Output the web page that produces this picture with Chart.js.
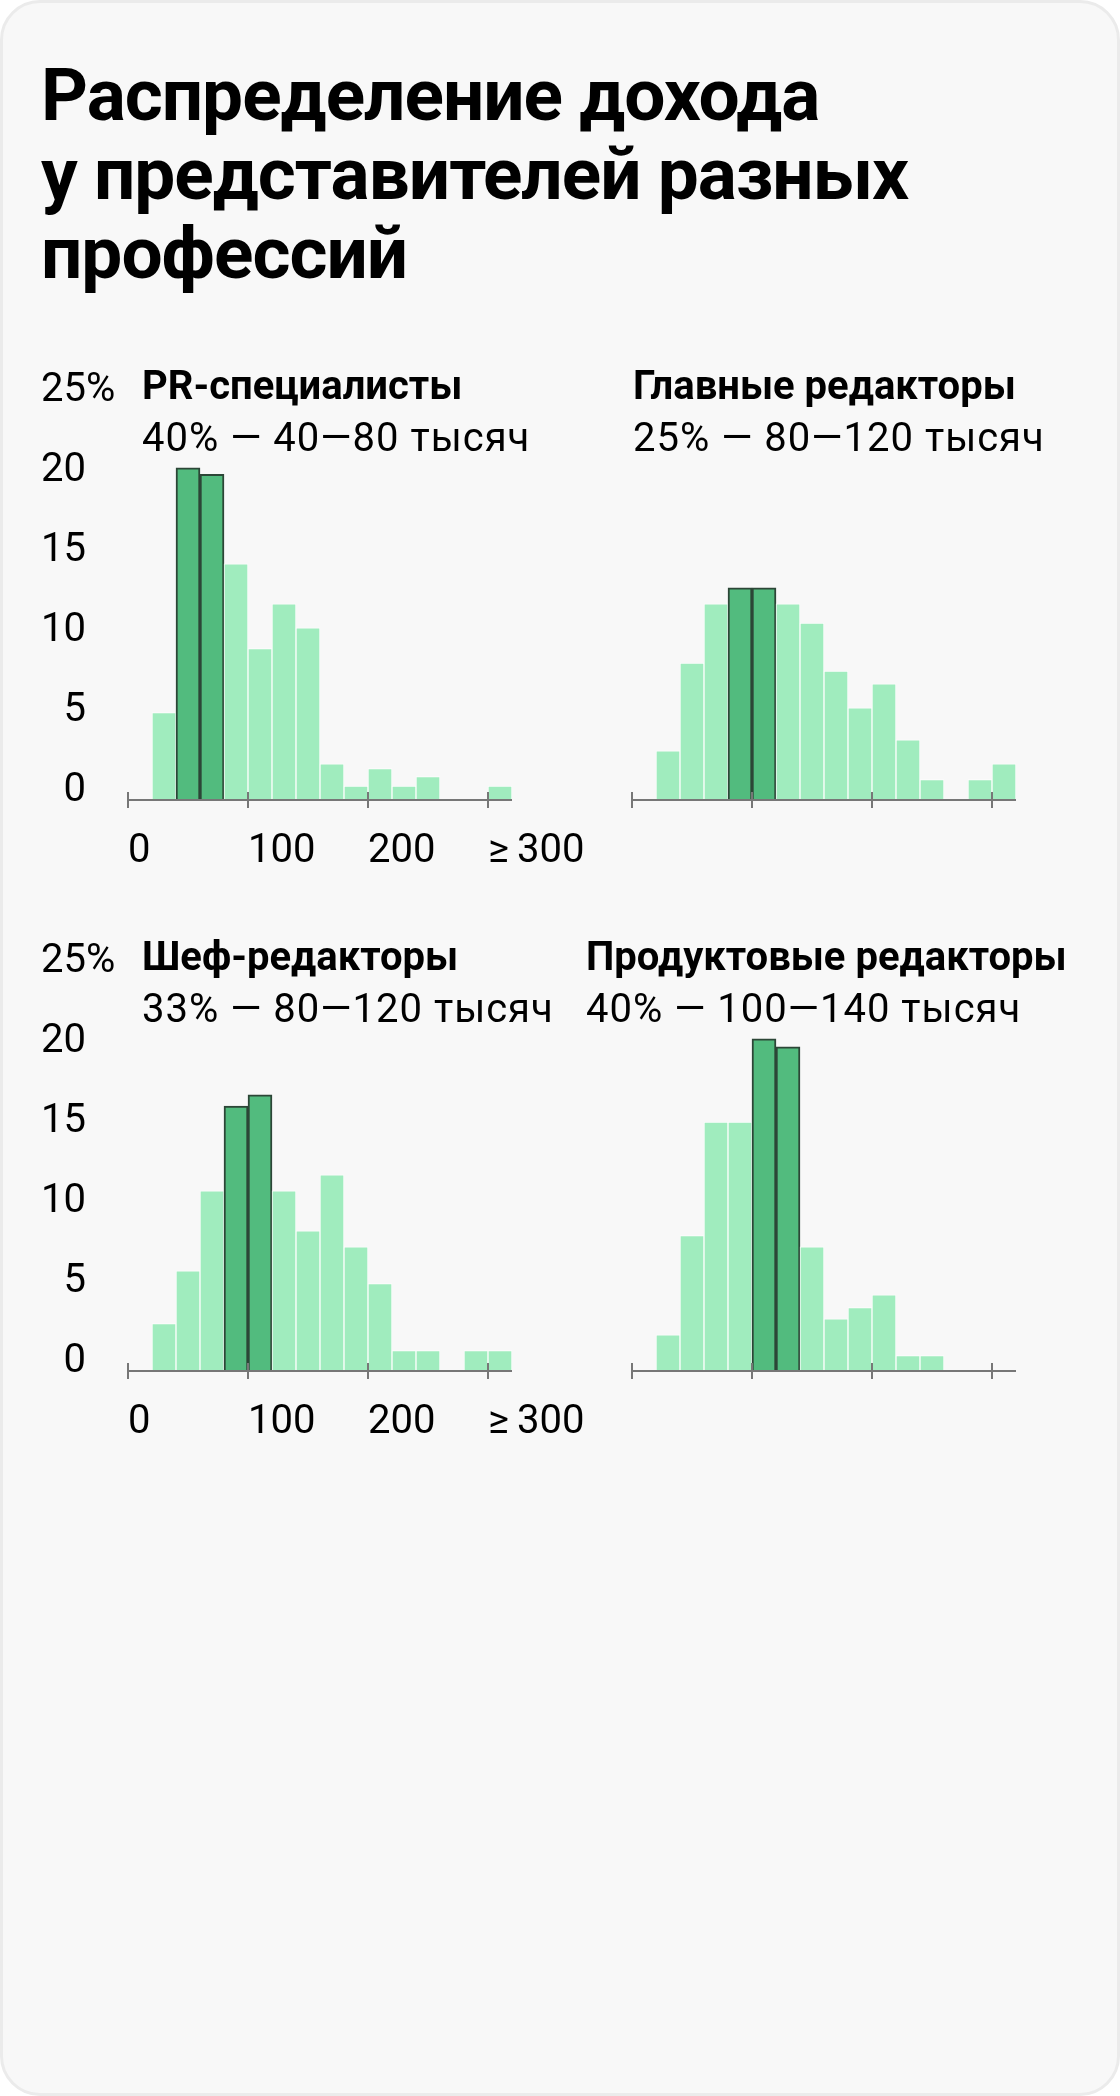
<!DOCTYPE html>
<html lang="ru">
<head>
<meta charset="utf-8">
<script src="https://cdn.jsdelivr.net/npm/chart.js@4.4.1/dist/chart.umd.min.js"></script>
<style>
  html, body { margin: 0; padding: 0; background: #fff; }
  .card {
    position: relative; width: 1120px; height: 2096px; box-sizing: border-box;
    background: #f8f8f8; border: 3px solid #ebebeb; border-radius: 40px;
    font-family: Roboto, "Noto Sans", sans-serif; color: #000; overflow: hidden;
  }
  h1 {
    position: absolute; left: 38px; top: 53px; margin: 0;
    font-size: 73px; line-height: 79px; font-weight: 700; letter-spacing: -1px;
  }
  .lbl { position: absolute; font-size: 40px; line-height: 52px; white-space: nowrap; letter-spacing: 1px; }
  .lbl b { font-weight: 700; display: block; letter-spacing: 0; }
  canvas { position: absolute; }
</style>
</head>
<body>
<div class="card" id="card">
  <h1>Распределение дохода<br>у представителей разных<br>профессий</h1>
</div>

<script>
// корзины дохода, тыс. руб. (начало корзины)
const binStarts = [0, 20, 40, 60, 80, 100, 120, 140, 160, 180, 200, 220, 240, 260, 280, 300];
const xTicks = [0, 100, 200, 300];
const xTickLabels = ['0', '100', '200', '≥\u2009300'];
const yTicks = [0, 5, 10, 15, 20, 25];

// доля, %
const prValues   = [null, 4.7, 20.0, 19.6, 14.0, 8.7, 11.5, 10.0, 1.5, 0.1, 1.2, 0.1, 0.7, null, null, 0.1];
const glavValues = [null, 2.3, 7.8, 11.5, 12.5, 12.5, 11.5, 10.3, 7.3, 5.0, 6.5, 3.0, 0.5, null, 0.5, 1.5];
const shefValues = [null, 2.2, 5.5, 10.5, 15.8, 16.5, 10.5, 8.0, 11.5, 7.0, 4.7, 0.5, 0.5, null, 0.5, 0.5];
const prodValues = [null, 1.5, 7.7, 14.8, 14.8, 20.0, 19.5, 7.0, 2.5, 3.2, 4.0, 0.2, 0.2, null, null, null];

// выделенные диапазоны
const prHigh = [40, 80];
const glavHigh = [80, 120];
const shefHigh = [80, 120];
const prodHigh = [100, 140];

const titles = ['PR-специалисты', 'Главные редакторы', 'Шеф-редакторы', 'Продуктовые редакторы'];
const subtitles = ['40% — 40—80 тысяч', '25% — 80—120 тысяч', '33% — 80—120 тысяч', '40% — 100—140 тысяч'];

const binWidth = 20;
const yBottom = -0.77; // столбики начинаются чуть ниже нуля
const light = '#a0ecbe';
const dark = '#52bb7e';

const card = document.getElementById('card');

// ось и засечки поверх столбиков
const axisPlugin = {
  id: 'axisLine',
  afterDatasetsDraw(chart) {
    const x = chart.scales.x, y = chart.scales.y;
    const ctx = chart.ctx;
    const yy = y.getPixelForValue(yBottom);
    ctx.save();
    ctx.strokeStyle = '#777';
    ctx.lineWidth = 2;
    ctx.beginPath();
    ctx.moveTo(x.left, yy);
    ctx.lineTo(x.right, yy);
    x.ticks.forEach(t => {
      const px = x.getPixelForValue(t.value);
      ctx.moveTo(px, yy - 8);
      ctx.lineTo(px, yy + 8);
    });
    ctx.stroke();
    ctx.restore();
  },
  afterDraw(chart) {
    if (!chart.options.scales.y.display) return;
    const y = chart.scales.y;
    const ctx = chart.ctx;
    ctx.save();
    ctx.font = '40px Roboto';
    ctx.fillStyle = '#000';
    ctx.textAlign = 'left';
    ctx.textBaseline = 'middle';
    ctx.fillText('%', y.right - 42, y.getPixelForValue(yTicks[yTicks.length - 1]) + 3);
    ctx.restore();
  }
};

function addLabel(title, sub, left, top) {
  const d = document.createElement('div');
  d.className = 'lbl';
  d.style.left = left + 'px';
  d.style.top = top + 'px';
  d.innerHTML = '<b>' + title + '</b>' + sub;
  card.appendChild(d);
}

function makeChart(values, high, left, top, withAxes) {
  const c = document.createElement('canvas');
  const w = withAxes ? 600 : 520;
  c.width = w; c.height = 522;
  c.style.left = (left - 3) + 'px';
  c.style.top = (top - 3) + 'px';
  card.appendChild(c);

  const points = [];
  values.forEach((v, i) => {
    if (v !== null) points.push({ x: binStarts[i] + binWidth / 2, y: v });
  });
  const isHigh = ctx => {
    const p = ctx.raw;
    return p && p.x > high[0] && p.x < high[1];
  };

  new Chart(c, {
    type: 'bar',
    data: {
      datasets: [{
        data: points,
        base: yBottom,
        backgroundColor: ctx => isHigh(ctx) ? dark : light,
        borderColor: ctx => isHigh(ctx) ? '#2c4637' : 'rgba(255,255,255,0.75)',
        borderWidth: ctx => isHigh(ctx) ? 2 : 1,
        categoryPercentage: 1,
        barPercentage: 1
      }]
    },
    options: {
      responsive: false,
      animation: false,
      layout: { padding: { top: 30, left: withAxes ? 0 : 32, right: withAxes ? 88 : 104, bottom: 0 } },
      plugins: { legend: { display: false }, tooltip: { enabled: false } },
      scales: {
        x: {
          type: 'linear',
          offset: false,
          min: 0, max: 320,
          afterBuildTicks: s => { s.ticks = xTicks.map(v => ({ value: v })); },
          afterFit: s => { s.height = 80; s.paddingLeft = 0; s.paddingRight = 0; },
          grid: { display: false, drawTicks: false, offset: false },
          border: { display: false },
          ticks: {
            display: withAxes,
            align: 'start',
            autoSkip: false,
            maxRotation: 0,
            minRotation: 0,
            padding: 28,
            color: '#000',
            font: { family: 'Roboto', size: 40 },
            callback: v => xTickLabels[xTicks.indexOf(v)]
          }
        },
        y: {
          display: withAxes,
          min: yBottom, max: 25,
          afterBuildTicks: s => { s.ticks = yTicks.map(v => ({ value: v })); },
          afterFit: s => { s.width = withAxes ? 128 : 0; s.paddingTop = 0; s.paddingBottom = 0; },
          grid: { display: false, drawTicks: false },
          border: { display: false },
          ticks: {
            padding: 42,
            labelOffset: 3,
            autoSkip: false,
            color: '#000',
            font: { family: 'Roboto', size: 40 },
            callback: v => String(v)
          }
        }
      }
    },
    plugins: [axisPlugin]
  });
}

makeChart(prValues, prHigh, 0, 358, true);
makeChart(glavValues, glavHigh, 600, 358, false);
makeChart(shefValues, shefHigh, 0, 929, true);
makeChart(prodValues, prodHigh, 600, 929, false);

addLabel(titles[0], subtitles[0], 139, 357);
addLabel(titles[1], subtitles[1], 630, 357);
addLabel(titles[2], subtitles[2], 139, 928);
addLabel(titles[3], subtitles[3], 583, 928);
</script>
</body>
</html>
